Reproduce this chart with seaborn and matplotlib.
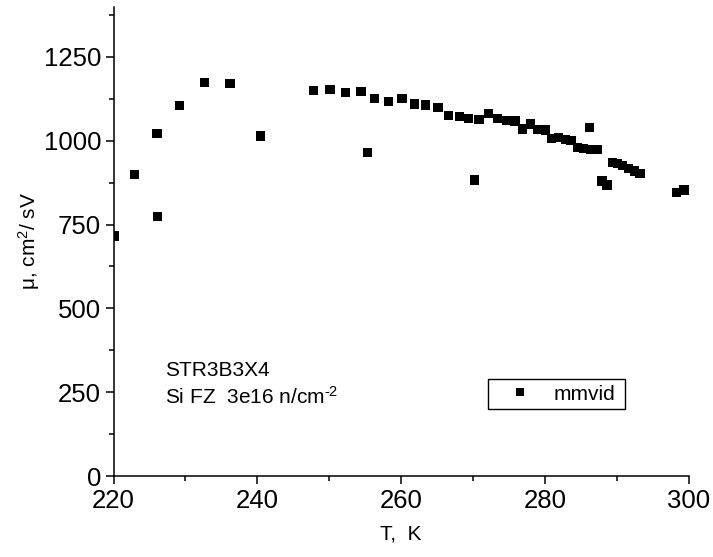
import matplotlib
matplotlib.use("Agg")
import matplotlib.pyplot as plt
import seaborn as sns
import pandas as pd
from matplotlib.ticker import MultipleLocator

# ---- data ----
T_K = [220.1, 222.9, 226.05, 226.1, 229.15, 232.6, 236.2, 240.4,
       247.75, 250.1, 252.3, 254.4, 255.35, 256.3, 258.2, 260.1, 261.8,
       263.4, 265.1, 266.6, 268.1, 269.4, 270.2, 270.8, 272.1, 273.4,
       274.6, 275.8, 276.9, 278.0, 279.0, 280.1, 280.9, 281.9, 282.8,
       283.6, 284.5, 285.3, 286.2, 286.3, 287.2, 287.9, 288.6, 289.4,
       290.05, 290.8, 291.6, 292.4, 293.2, 298.3, 299.3]
mu = [716, 899, 1022, 773, 1105, 1174, 1171, 1014,
      1150, 1152, 1145, 1148, 964, 1127, 1117, 1125, 1110,
      1107, 1099, 1076, 1072, 1067, 883, 1064, 1082, 1067,
      1060, 1059, 1035, 1050, 1034, 1032, 1007, 1009, 1004,
      1000, 981, 977, 1039, 975, 975, 880, 868, 935,
      933, 927, 918, 910, 903, 845, 853]
series_name = "mmvid"
x_label = "T,  K"
y_label = r"μ, cm$^2$/ sV"
note1 = "STR3B3X4"
note2 = r"Si FZ  3e16 n/cm$^{\text{-}2}$"

df = pd.DataFrame({"T": T_K, "mu": mu, "series": series_name})

sns.set_theme(style="ticks")
plt.rcParams["font.family"] = ["Liberation Sans", "DejaVu Sans"]
plt.rcParams["mathtext.fontset"] = "custom"
plt.rcParams["mathtext.rm"] = "Liberation Sans"
plt.rcParams["mathtext.it"] = "Liberation Sans"
plt.rcParams["text.color"] = "black"
plt.rcParams["axes.labelcolor"] = "black"

fig = plt.figure(figsize=(7.13, 5.57), dpi=100)
ax = fig.add_axes([113.5/713, 1-476/557, (689-113.5)/713, (476-6.7)/557])

sns.scatterplot(data=df, x="T", y="mu", hue="series", palette=["black"],
                marker="s", s=44, linewidth=0, ax=ax, legend=True)

ax.set_xlim(220, 300)
ax.set_ylim(0, 1400)
ax.xaxis.set_major_locator(MultipleLocator(20))
ax.xaxis.set_minor_locator(MultipleLocator(10))
ax.yaxis.set_major_locator(MultipleLocator(250))
ax.yaxis.set_minor_locator(MultipleLocator(125))

for side in ["top", "right"]:
    ax.spines[side].set_visible(False)
for side in ["left", "bottom"]:
    ax.spines[side].set_linewidth(1.1)
    ax.spines[side].set_color("black")

ax.tick_params(axis="both", which="major", direction="out", length=6,
               width=1.1, labelsize=18.5, pad=3, colors="black")
ax.tick_params(axis="both", which="minor", direction="out", length=3.5,
               width=1.1, colors="black")

ax.set_xlabel(x_label, fontsize=15, labelpad=9, color="black")
ax.set_ylabel(y_label, fontsize=15, labelpad=1, color="black")

ax.text(0.0895, 0.224, note1, transform=ax.transAxes, fontsize=15,
        va="center", ha="left", color="black")
ax.text(0.0895, 0.168, note2, transform=ax.transAxes, fontsize=15,
        va="center", ha="left", color="black")

leg = ax.legend(loc="lower left", bbox_to_anchor=(0.651, 0.143, 0.238, 0.064),
                mode="expand", borderaxespad=0, fontsize=15, frameon=True,
                fancybox=False, edgecolor="black", framealpha=1,
                handlelength=2.6, handletextpad=0.3, borderpad=0.25,
                markerscale=0.9)
leg.get_frame().set_linewidth(1.0)
for txt in leg.get_texts():
    txt.set_color("black")

fig.savefig("out.png", dpi=100)
